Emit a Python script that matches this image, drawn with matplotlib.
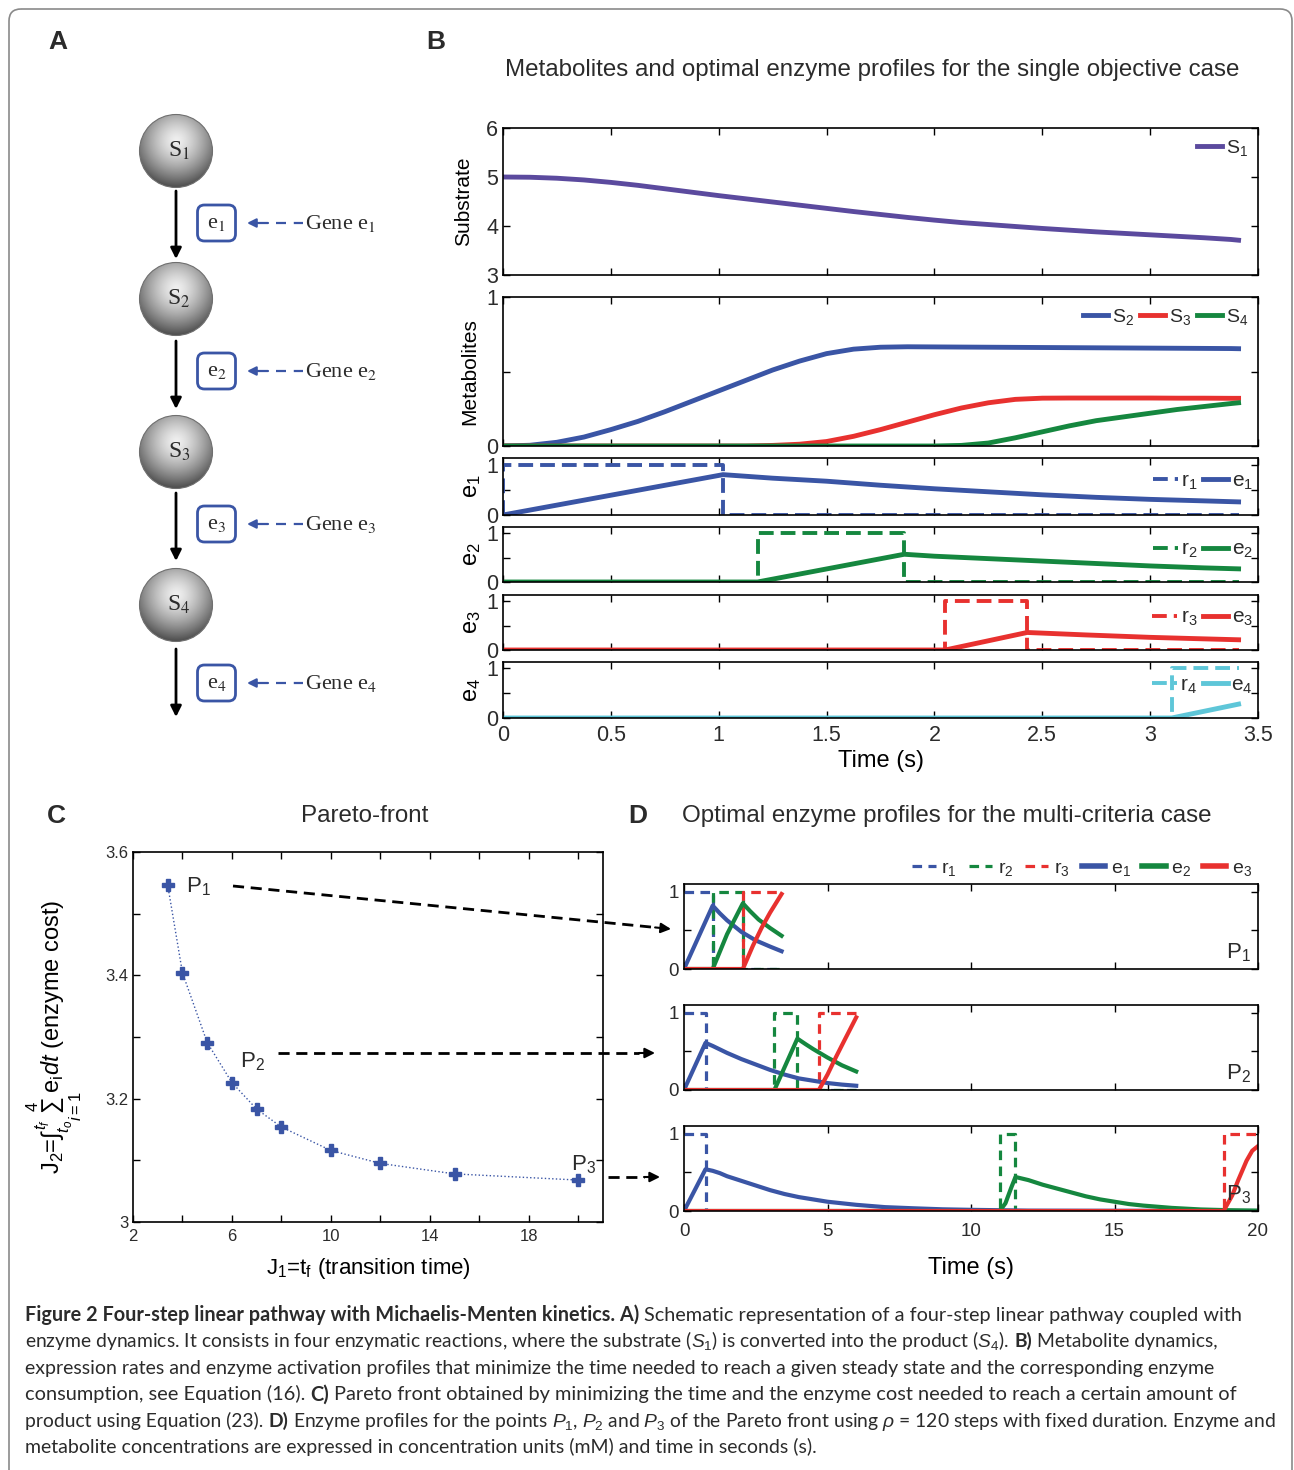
import numpy as np
import matplotlib
matplotlib.use('Agg')
import matplotlib.pyplot as plt
from matplotlib import font_manager
from matplotlib.lines import Line2D
from matplotlib.patches import Circle, FancyBboxPatch

#============= Data =============

# B: metabolites, single objective case
t_met = [0, 0.125, 0.25, 0.375, 0.5, 0.625, 0.75, 0.875, 1.0, 1.125, 1.25, 1.375, 1.5, 1.625,
         1.75, 1.875, 2.0, 2.125, 2.25, 2.375, 2.5, 2.625, 2.75, 2.875, 3.0, 3.125, 3.25, 3.375, 3.41]
S1 = [5.0, 4.995, 4.975, 4.94, 4.89, 4.83, 4.76, 4.69, 4.62, 4.555, 4.49, 4.425, 4.36, 4.295,
      4.235, 4.175, 4.12, 4.07, 4.03, 3.99, 3.95, 3.915, 3.88, 3.85, 3.82, 3.79, 3.76, 3.725, 3.71]
S2 = [0, 0.005, 0.025, 0.06, 0.11, 0.165, 0.23, 0.30, 0.37, 0.44, 0.51, 0.57, 0.62, 0.65,
      0.663, 0.666, 0.665, 0.664, 0.663, 0.662, 0.661, 0.66, 0.659, 0.658, 0.657, 0.656, 0.655, 0.654, 0.653]
S3 = [0, 0, 0, 0, 0, 0, 0, 0, 0, 0, 0.004, 0.012, 0.03, 0.065,
      0.11, 0.16, 0.21, 0.255, 0.29, 0.313, 0.321, 0.322, 0.322, 0.322, 0.322, 0.321, 0.321, 0.32, 0.32]
S4 = [0, 0, 0, 0, 0, 0, 0, 0, 0, 0, 0, 0, 0, 0,
      0, 0, 0, 0.004, 0.02, 0.055, 0.095, 0.135, 0.17, 0.195, 0.22, 0.245, 0.265, 0.285, 0.29]

# B: expression rates (r) and enzymes (e)
r1_t = [0, 0, 1.02, 1.02, 3.41]
r1_v = [0, 1, 1, 0, 0]
e1_t = [0, 1.02, 1.25, 1.5, 1.75, 2.0, 2.25, 2.5, 2.75, 3.0, 3.25, 3.41]
e1_v = [0, 0.80, 0.73, 0.67, 0.59, 0.52, 0.46, 0.40, 0.35, 0.31, 0.28, 0.26]
r2_t = [0, 1.18, 1.18, 1.86, 1.86, 3.41]
r2_v = [0, 0, 1, 1, 0, 0]
e2_t = [0, 1.18, 1.86, 2.0, 2.25, 2.5, 2.75, 3.0, 3.25, 3.41]
e2_v = [0, 0, 0.57, 0.53, 0.48, 0.43, 0.38, 0.33, 0.29, 0.27]
r3_t = [0, 2.05, 2.05, 2.43, 2.43, 3.41]
r3_v = [0, 0, 1, 1, 0, 0]
e3_t = [0, 2.05, 2.43, 2.7, 3.0, 3.2, 3.41]
e3_v = [0, 0, 0.36, 0.31, 0.26, 0.235, 0.21]
r4_t = [0, 3.1, 3.1, 3.41]
r4_v = [0, 0, 1, 1]
e4_t = [0, 3.1, 3.41]
e4_v = [0, 0, 0.28]
b_ticks = [0, 0.5, 1, 1.5, 2, 2.5, 3, 3.5]
b_ticklabels = ['0', '0.5', '1', '1.5', '2', '2.5', '3', '3.5']

# C: Pareto front
pareto_t = [3.4, 4, 5, 6, 7, 8, 10, 12, 15, 20]
pareto_cost = [3.547, 3.404, 3.291, 3.226, 3.183, 3.154, 3.116, 3.095, 3.078, 3.068]

# D: profiles for P1, P2, P3
p1 = dict(
    r1=([0, 1.0, 1.0, 3.4], [1, 1, 0, 0]),
    r2=([0, 1.0, 1.0, 2.05, 2.05, 3.4], [0, 0, 1, 1, 0, 0]),
    r3=([0, 2.05, 2.05, 3.4], [0, 0, 1, 1]),
    e1=([0, 1.0, 1.25, 1.5, 2.0, 2.5, 3.0, 3.4], [0, 0.82, 0.72, 0.63, 0.48, 0.37, 0.29, 0.23]),
    e2=([0, 1.0, 1.5, 2.05, 2.3, 2.6, 3.0, 3.4], [0, 0, 0.45, 0.85, 0.75, 0.64, 0.53, 0.43]),
    e3=([0, 2.05, 2.4, 2.7, 3.0, 3.4], [0, 0, 0.30, 0.53, 0.73, 0.97]),
)
p2 = dict(
    r1=([0, 0.75, 0.75, 6], [1, 1, 0, 0]),
    r2=([0, 3.15, 3.15, 3.95, 3.95, 6], [0, 0, 1, 1, 0, 0]),
    r3=([0, 4.7, 4.7, 6], [0, 0, 1, 1]),
    e1=([0, 0.75, 1.0, 1.5, 2.0, 2.5, 3.0, 3.5, 4.0, 4.5, 5.0, 5.5, 6.0],
        [0, 0.61, 0.57, 0.48, 0.40, 0.33, 0.26, 0.20, 0.15, 0.12, 0.09, 0.07, 0.055]),
    e2=([0, 3.15, 3.95, 4.25, 4.5, 5.0, 5.5, 6.0], [0, 0, 0.665, 0.59, 0.53, 0.42, 0.32, 0.24]),
    e3=([0, 4.7, 5.0, 5.3, 5.6, 6.0], [0, 0, 0.2, 0.43, 0.65, 0.94]),
)
p3 = dict(
    r1=([0, 0.75, 0.75, 20], [1, 1, 0, 0]),
    r2=([0, 11.0, 11.0, 11.55, 11.55, 20], [0, 0, 1, 1, 0, 0]),
    r3=([0, 18.8, 18.8, 20], [0, 0, 1, 1]),
    e1=([0, 0.75, 1.0, 1.25, 1.5, 1.75, 2.0, 2.5, 3.0, 3.5, 4.0, 4.5, 5.0, 5.5, 6.0, 7.0, 8.0, 9.0, 10.0, 12.0, 20.0],
        [0, 0.54, 0.52, 0.49, 0.45, 0.42, 0.39, 0.33, 0.27, 0.22, 0.18, 0.15, 0.12, 0.10, 0.08,
         0.05, 0.035, 0.022, 0.015, 0.005, 0]),
    e2=([0, 11.0, 11.2, 11.4, 11.55, 12.0, 12.5, 13.0, 13.5, 14.0, 14.5, 15.0, 15.5, 16.0, 17.0, 18.0, 19.0, 20.0],
        [0, 0, 0.1, 0.3, 0.44, 0.40, 0.34, 0.29, 0.24, 0.19, 0.15, 0.12, 0.09, 0.07, 0.04, 0.02, 0.01, 0.005]),
    e3=([0, 18.8, 19.1, 19.3, 19.6, 19.8, 20], [0, 0, 0.2, 0.39, 0.65, 0.78, 0.84]),
)
d_points = ['P$_1$', 'P$_2$', 'P$_3$']

# A: schematic labels
metab_names = ['S$_1$', 'S$_2$', 'S$_3$', 'S$_4$']
enz_names = ['e$_1$', 'e$_2$', 'e$_3$', 'e$_4$']
gene_names = ['Gene e$_1$', 'Gene e$_2$', 'Gene e$_3$', 'Gene e$_4$']

caption = [
    [('Figure 2 Four-step linear pathway with Michaelis-Menten kinetics. A)', 'bold'),
     ('Schematic representation of a four-step linear pathway coupled with', 'normal')],
    [('enzyme dynamics. It consists in four enzymatic reactions, where the substrate ($S_1$) is converted into the product ($S_4$).', 'normal'),
     ('B)', 'bold'), ('Metabolite dynamics,', 'normal')],
    [('expression rates and enzyme activation profiles that minimize the time needed to reach a given steady state and the corresponding enzyme', 'normal')],
    [('consumption, see Equation (16).', 'normal'), ('C)', 'bold'),
     ('Pareto front obtained by minimizing the time and the enzyme cost needed to reach a certain amount of', 'normal')],
    [('product using Equation (23).', 'normal'), ('D)', 'bold'),
     ('Enzyme profiles for the points $P_1$, $P_2$ and $P_3$ of the Pareto front using $\\rho$ = 120 steps with fixed duration. Enzyme and', 'normal')],
    [('metabolite concentrations are expressed in concentration units (mM) and time in seconds (s).', 'normal')],
]
# right end of each caption line in the reference (pixels)
caption_ends = [1247, 1220, 1215, 1243, 1277, 818]

#============= Style =============

W, H = 1294, 1470
BLUE = '#3a55a5'
RED = '#e8312f'
GREEN = '#15873f'
PURPLE = '#5b4a9e'
CYAN = '#5ec6d8'
TXT = '#2b2b2b'

names = {f.name for f in font_manager.fontManager.ttflist}
SANS = 'Liberation Sans'
NARROW = 'Liberation Sans Narrow' if 'Liberation Sans Narrow' in names else SANS
SERIF = ['Liberation Serif', 'DejaVu Serif']
CAP = 'Lato' if 'Lato' in names else 'DejaVu Sans'

plt.rcParams['font.family'] = [SANS, 'DejaVu Sans']
plt.rcParams['mathtext.fontset'] = 'custom'
plt.rcParams['mathtext.rm'] = SANS
plt.rcParams['mathtext.it'] = SANS + ':italic'
plt.rcParams['mathtext.bf'] = SANS + ':bold'
plt.rcParams['text.color'] = TXT

DASH_B = (0, (3.8, 1.8))
DASH_D = (0, (3.0, 2.0))

fig = plt.figure(figsize=(W / 100, H / 100), dpi=100)


def px_axes(l, t, r, b):
    return fig.add_axes([l / W, 1 - b / H, (r - l) / W, (b - t) / H])


def boxed(ax, size, xpad=3.5):
    ax.tick_params(direction='in', top=True, right=True, length=5, width=1,
                   labelsize=size, labelcolor=TXT)
    ax.tick_params(axis='x', pad=xpad)
    for s in ax.spines.values():
        s.set_linewidth(1.2)


#============= Panel B =============

axS = px_axes(503, 128, 1258, 275)
axS.plot(t_met, S1, color=PURPLE, lw=3.5, label='S$_1$')
axS.set_ylim(3, 6)
axS.set_yticks([3, 4, 5, 6])
axS.set_ylabel('Substrate', fontsize=15)
axS.yaxis.set_label_coords(-0.040, 0.5)
axS.legend(loc='upper right', frameon=False, fontsize=14, handlelength=1.3,
           handletextpad=0.2, borderaxespad=0.2, borderpad=0.3)

axM = px_axes(503, 297, 1258, 446)
axM.plot(t_met, S2, color=BLUE, lw=3.5, label='S$_2$')
axM.plot(t_met, S3, color=RED, lw=3.5, label='S$_3$')
axM.plot(t_met, S4, color=GREEN, lw=3.5, label='S$_4$')
axM.set_ylim(0, 1)
axM.set_yticks([0, 0.5, 1])
axM.set_yticklabels(['0', '', '1'])
axM.set_ylabel('Metabolites', fontsize=15)
axM.yaxis.set_label_coords(-0.032, 0.5)
axM.legend(loc='upper right', frameon=False, fontsize=14, ncol=3, handlelength=1.3,
           handletextpad=0.2, columnspacing=0.3, borderaxespad=0.2, borderpad=0.3)

enz_rows = [(r1_t, r1_v, e1_t, e1_v, BLUE, 1, 458, 515),
            (r2_t, r2_v, e2_t, e2_v, GREEN, 2, 527, 582),
            (r3_t, r3_v, e3_t, e3_v, RED, 3, 595, 650),
            (r4_t, r4_v, e4_t, e4_v, CYAN, 4, 662, 718)]
axE = []
for rt, rv, et, ev, c, k, top, bot in enz_rows:
    ax = px_axes(503, top, 1258, bot)
    ax.plot(rt, rv, color=c, lw=2.8, ls=DASH_B)
    ax.plot(et, ev, color=c, lw=3.5)
    ax.set_ylim(0, 1.13)
    ax.set_yticks([0, 0.5, 1])
    ax.set_yticklabels(['0', '', '1'])
    ax.set_ylabel('e$_%d$' % k, fontsize=17)
    ax.yaxis.set_label_coords(-0.027, 0.5)
    hd = [Line2D([], [], color=c, lw=2.8, ls=DASH_B), Line2D([], [], color=c, lw=3.5)]
    ax.legend(hd, ['r$_%d$' % k, 'e$_%d$' % k], loc='center right', bbox_to_anchor=(1.0, 0.58),
              ncol=2, frameon=False, fontsize=15, handlelength=1.2, handletextpad=0.15,
              columnspacing=0.3, borderaxespad=0.05, borderpad=0.2)
    axE.append(ax)

for ax in [axS, axM] + axE:
    ax.set_xlim(0, 3.5)
    ax.set_xticks(b_ticks)
    ax.set_xticklabels([])
    boxed(ax, 15.5, xpad=5)
axE[-1].set_xticklabels(b_ticklabels)
axE[-1].set_xlabel('Time (s)', fontsize=17)
axE[-1].xaxis.set_label_coords(0.5, -0.57)

#============= Panel C =============

axC = px_axes(133, 852, 603, 1222)
axC.plot(pareto_t, pareto_cost, ls=':', color=BLUE, lw=1)
axC.plot(pareto_t, pareto_cost, ls='none', marker='P', ms=9, color=BLUE, mec=BLUE)
axC.set_xlim(2, 21)
axC.set_ylim(3, 3.6)
axC.set_xticks(range(2, 21, 2))
axC.set_xticklabels(['2', '', '6', '', '10', '', '14', '', '18', ''])
axC.set_yticks([3, 3.1, 3.2, 3.3, 3.4, 3.5, 3.6])
axC.set_yticklabels(['3', '', '3.2', '', '3.4', '', '3.6'])
boxed(axC, 12, xpad=5)
axC.set_xlabel('J$_1$=t$_{\\rm f}$ (transition time)', fontsize=16)
axC.xaxis.set_label_coords(0.5, -0.092)
axC.set_ylabel('J$_2$=$\\int_{t_o}^{t_f}\\sum_{i=1}^{4}$e$_{\\rm i}$$\\mathit{dt}$ (enzyme cost)', fontsize=17)
axC.yaxis.set_label_coords(-0.104, 0.5)
for (px, py), lab in zip([(4.15, 3.535), (6.33, 3.25), (19.7, 3.083)], d_points):
    axC.text(px, py, lab, fontsize=16, ha='left', va='baseline')

#============= Panel D =============

axD = [px_axes(684, 884, 1258, 969), px_axes(684, 1005, 1258, 1090), px_axes(684, 1126, 1258, 1211)]
for ax, prof, lab in zip(axD, [p1, p2, p3], d_points):
    for key, c in [('r1', BLUE), ('r2', GREEN), ('r3', RED)]:
        ax.plot(*prof[key], color=c, lw=2.3, ls=DASH_D)
    for key, c in [('e1', BLUE), ('e2', GREEN), ('e3', RED)]:
        ax.plot(*prof[key], color=c, lw=3)
    ax.set_xlim(0, 20)
    ax.set_ylim(0, 1.1)
    ax.set_xticks([0, 5, 10, 15, 20])
    ax.set_xticklabels([])
    ax.set_yticks([0, 0.5, 1])
    ax.set_yticklabels(['0', '', '1'])
    boxed(ax, 13.5, xpad=9)
    ax.text(0.988, 0.06, lab, transform=ax.transAxes, fontsize=16, ha='right', va='bottom')
axD[-1].set_xticklabels(['0', '5', '10', '15', '20'])
axD[-1].set_xlabel('Time (s)', fontsize=17)
axD[-1].xaxis.set_label_coords(0.5, -0.54)
hd = [Line2D([], [], color=c, lw=2.3, ls=DASH_D) for c in (BLUE, GREEN, RED)] + \
     [Line2D([], [], color=c, lw=4) for c in (BLUE, GREEN, RED)]
axD[0].legend(hd, ['r$_1$', 'r$_2$', 'r$_3$', 'e$_1$', 'e$_2$', 'e$_3$'], loc='lower right',
              bbox_to_anchor=(1.0, 1.0), ncol=6, frameon=False, fontsize=14, handlelength=1.2,
              handletextpad=0.3, columnspacing=0.6, borderaxespad=0.1, borderpad=0.2)

#============= Overlay: panel A, titles, arrows, caption =============

ov = fig.add_axes([0, 0, 1, 1], zorder=10)
ov.set_xlim(0, W)
ov.set_ylim(H, 0)
ov.axis('off')

frame = FancyBboxPatch((9, 9), 1283, 1480, boxstyle='round,pad=0,rounding_size=12',
                       ec='#8a8a8a', fc='none', lw=1.2, clip_on=False)
ov.add_patch(frame)

for x, y, s in [(58, 42, 'A'), (436, 42, 'B'), (56, 816, 'C'), (638, 816, 'D')]:
    ov.text(x, y, s, fontsize=19, fontweight='bold', family=NARROW, ha='center', va='center')
ov.text(872, 70, 'Metabolites and optimal enzyme profiles for the single objective case',
        fontsize=17.4, ha='center', va='center')
ov.text(365, 816, 'Pareto-front', fontsize=17.4, ha='center', va='center')
ov.text(682, 816, 'Optimal enzyme profiles for the multi-criteria case', fontsize=17.4,
        ha='left', va='center')

# schematic
sph_y = [151, 299, 452, 605]
box_y = [223, 371, 524, 683]
arr_y = [(191, 259), (341, 409), (493, 561), (649, 717)]
n = 140
yy, xx = np.mgrid[-1:1:n * 1j, -1:1:n * 1j]
shade = np.clip(0.94 - 0.45 * np.hypot(xx, yy + 0.3) ** 1.4, 0, 1)
for cy, name in zip(sph_y, metab_names):
    r = 36.5
    im = ov.imshow(shade, cmap='gray', vmin=0, vmax=1, extent=(176 - r, 176 + r, cy + r, cy - r),
                   aspect='auto', interpolation='bilinear', zorder=2)
    circ = Circle((176, cy), r, fc='none', ec='#6f6f6f', lw=0.8, zorder=3)
    ov.add_patch(circ)
    im.set_clip_path(circ)
    ov.text(179, cy, name, family=SERIF, math_fontfamily='stix', fontsize=17,
            ha='center', va='center', zorder=4)
for y0, y1 in arr_y:
    ov.annotate('', xy=(176, y1), xytext=(176, y0),
                arrowprops=dict(arrowstyle='-|>', color='k', lw=2, mutation_scale=16,
                                shrinkA=0, shrinkB=0))
for cy, en, gn in zip(box_y, enz_names, gene_names):
    ov.add_patch(FancyBboxPatch((197.5, cy - 18), 38, 36, boxstyle='round,pad=0,rounding_size=7',
                                ec=BLUE, fc='white', lw=2))
    ov.text(216.5, cy, en, family=SERIF, math_fontfamily='stix', fontsize=16,
            ha='center', va='center')
    ov.annotate('', xy=(247, cy), xytext=(268, cy),
                arrowprops=dict(arrowstyle='-|>', color=BLUE, lw=1.6, mutation_scale=13,
                                shrinkA=0, shrinkB=0))
    ov.plot([276, 303], [cy, cy], color=BLUE, lw=1.6, ls=(0, (4.5, 3.5)))
    ov.text(305, cy, gn, family=SERIF, math_fontfamily='stix', fontsize=16,
            ha='left', va='center')

# arrows from the Pareto points to panel D
links = [((233, 886), (671, 929)), ((278, 1053), (655, 1053)), ((608, 1177), (660, 1177))]
for (x0, y0), (x1, y1) in links:
    dx, dy = x1 - x0, y1 - y0
    L = np.hypot(dx, dy)
    xb, yb = x1 - 16 * dx / L, y1 - 16 * dy / L
    ov.plot([x0, xb], [y0, yb], color='k', lw=2, ls=(0, (4, 2.4)))
    ov.annotate('', xy=(x1, y1), xytext=(xb, yb),
                arrowprops=dict(arrowstyle='-|>', color='k', lw=1.5, mutation_scale=15,
                                shrinkA=0, shrinkB=0))

# caption: each line sized to end where the reference line ends
renderer = fig.canvas.get_renderer()
CAP_SIZE = 14.2
X0 = 25


def place_line(parts, y, size):
    sp = None
    x = X0
    arts = []
    for s, wt in parts:
        if sp is None:
            a = ov.text(0, 0, 'x x', family=CAP, fontsize=size)
            b = ov.text(0, 0, 'xx', family=CAP, fontsize=size)
            sp = a.get_window_extent(renderer).width - b.get_window_extent(renderer).width
            a.remove()
            b.remove()
        t = ov.text(x, y, s, family=CAP, fontsize=size, fontweight=wt, ha='left', va='baseline')
        arts.append(t)
        x += t.get_window_extent(renderer).width + sp
    return arts, x - sp


for i, (parts, end) in enumerate(zip(caption, caption_ends)):
    y = 1321 + i * 26.4
    arts, xe = place_line(parts, y, CAP_SIZE)
    size = min(CAP_SIZE * (end - X0) / (xe - X0), 14.6)
    for a in arts:
        a.remove()
    place_line(parts, y, size)

fig.savefig('out.png', dpi=100)
